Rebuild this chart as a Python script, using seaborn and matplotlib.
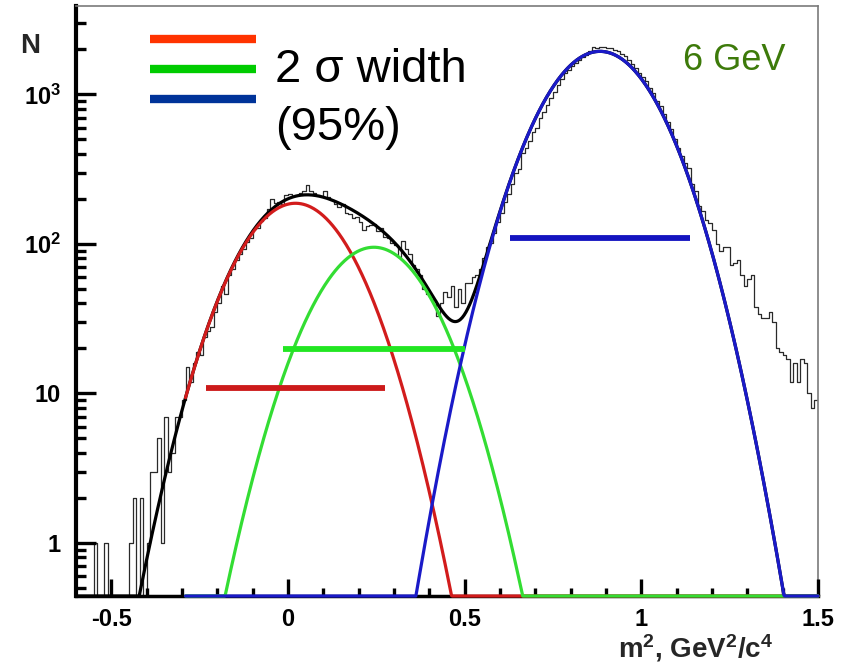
import numpy as np
import pandas as pd
import matplotlib
matplotlib.use("Agg")
import matplotlib.pyplot as plt
import seaborn as sns
from matplotlib.ticker import NullLocator, NullFormatter

# ---------------- data ----------------
bin_start = -0.60
bin_width = 0.01
hist_counts = [
    0, 0, 0, 0, 0, 1, 0, 0, 1, 0,
    0, 0, 0, 0, 0, 1, 2, 0, 2, 0,
    1, 3, 3, 5, 1, 7, 3, 4, 7, 7,
    9,
    15, 12, 16, 19, 18, 24, 26, 28, 35, 40,
    52, 46, 62, 68, 78, 86, 92, 103, 110, 125,
    128, 143, 150, 170, 200, 188, 192, 186, 212, 215,
    208, 212, 218, 225, 248, 226, 218, 212, 208,
    225, 205, 198, 185, 176, 185, 162, 158, 150, 152,
    140, 124, 132, 134, 136, 122, 128, 112, 110, 102,
    98, 82, 104, 92, 86, 72, 68, 62, 50, 46,
    44, 42, 33, 40, 48, 44, 52, 38, 50, 40,
    55, 55, 60, 62, 68, 80, 95, 102, 118, 140,
    160, 190, 215, 250, 300, 315, 405, 440, 490, 560,
    600, 690, 760, 850, 950, 1030, 1150, 1260, 1380, 1450,
    1540, 1620, 1700, 1790, 1820, 1960, 2060, 2040, 2080, 2070,
    2050, 2030, 1990, 1940, 1850, 1800, 1700, 1600, 1500, 1400,
    1300, 1220, 1100, 1020, 910, 830, 740, 650, 590, 500,
    440, 390, 345, 320, 250, 225, 180, 165, 145, 138,
    124, 100, 89, 96, 96, 72, 75, 78, 62, 52,
    58, 62, 38, 34, 32, 32, 35, 30, 20, 19,
    18, 17, 12, 16, 12, 17, 16, 10, 8, 9,
]

# Gaussian fit components (pion, kaon, proton)
fit_labels = ["pi", "K", "p"]
fit_amplitude = [187.0, 95.0, 1940.0]
fit_mean = [0.021, 0.243, 0.883]
fit_sigma = [0.1271, 0.1285, 0.1272]
fit_start = [-0.29, -0.29, -0.29]
total_start = -0.60
fit_end = 1.50

# N level at which each 2-sigma bar is drawn
band_level = [10.9, 19.9, 110.0]

x_ticks = [-0.5, 0, 0.5, 1, 1.5]
x_tick_labels = ["-0.5", "0", "0.5", "1", "1.5"]
y_ticks = [1, 10, 100, 1000]
y_tick_labels = ["1", "10", r"$10^{2}$", r"$10^{3}$"]

# ---------------- styling ----------------
sns.set_theme(style="ticks")
plt.rcParams["font.family"] = ["Liberation Sans", "DejaVu Sans"]
plt.rcParams["mathtext.fontset"] = "custom"
plt.rcParams["mathtext.rm"] = "Liberation Sans"
plt.rcParams["mathtext.bf"] = "Liberation Sans:bold"
plt.rcParams["mathtext.default"] = "bf"
plt.rcParams["axes.axisbelow"] = False

curve_colors = ["#d21c1c", "#33dd33", "#1a1ac8"]
bar_colors = ["#cc1a1a", "#22e622", "#1414c0"]
legend_colors = ["#ff3300", "#00cc00", "#003399"]

XMIN, XMAX = -0.60, 1.50
YMIN, YMAX = 0.442, 3900.0

fig = plt.figure(figsize=(8.5, 6.66), dpi=100)
ax = fig.add_axes([76 / 850, 1 - 596 / 666, (818 - 76) / 850, (596 - 6) / 666])

# histogram
counts = np.array(hist_counts, dtype=float)
edges = bin_start + bin_width * np.arange(len(counts) + 1)
centers = edges[:-1] + bin_width / 2
hist_df = pd.DataFrame({"m2": centers, "N": counts})
sns.histplot(data=hist_df, x="m2", weights="N", bins=list(edges), element="step",
             fill=False, color="#2a2a2a", linewidth=0.9, ax=ax, zorder=2)
ax.set_yscale("log")


def gauss(x, a, m, s):
    return a * np.exp(-0.5 * ((x - m) / s) ** 2)


# total fit
xt = np.linspace(total_start, fit_end, 800)
yt = sum(gauss(xt, a, m, s) for a, m, s in zip(fit_amplitude, fit_mean, fit_sigma))
sns.lineplot(x=xt, y=np.clip(yt, YMIN, None), color="black", linewidth=2.3,
             ax=ax, zorder=3, clip_on=False, sort=False)

# components
for i, (a, m, s) in enumerate(zip(fit_amplitude, fit_mean, fit_sigma)):
    xg = np.linspace(fit_start[i], fit_end, 800)
    yg = np.clip(gauss(xg, a, m, s), YMIN, None)
    sns.lineplot(x=xg, y=yg, color=curve_colors[i], linewidth=2.3, ax=ax,
                 zorder=3.1 + 0.1 * i, clip_on=False, sort=False)

# 2-sigma bars
for i, (m, s) in enumerate(zip(fit_mean, fit_sigma)):
    ax.hlines(band_level[i], m - 2 * s, m + 2 * s, colors=bar_colors[i],
              linewidth=4.2, zorder=3.6)

ax.set_xlim(XMIN, XMAX)
ax.set_ylim(YMIN, YMAX)
ax.set_xlabel("")
ax.set_ylabel("")

# tick labels (native marks hidden; marks drawn as line segments below)
ax.set_xticks(x_ticks, x_tick_labels, fontsize=17, fontweight="bold")
ax.set_yticks(y_ticks, y_tick_labels, fontsize=17, fontweight="bold")
ax.xaxis.set_minor_locator(NullLocator())
ax.yaxis.set_minor_locator(NullLocator())
ax.yaxis.set_minor_formatter(NullFormatter())
ax.tick_params(axis="x", which="major", length=0, pad=9, labelcolor="black")
ax.tick_params(axis="y", which="major", length=0, pad=11, labelcolor="black")

# inward tick marks as plain line segments in data space
x_minor = [v for v in np.round(np.arange(-0.5, 1.5001, 0.1), 2)
           if not np.any(np.isclose(v, x_ticks))]
y_minor = [m * 10.0 ** e for e in range(-1, 4) for m in range(2, 10)
           if YMIN < m * 10.0 ** e < YMAX]
x_per_px = (XMAX - XMIN) / 742.0
dec_per_px = np.log10(YMAX / YMIN) / 590.0


def seg_xy(pairs):
    xs, ys = [], []
    for (x0, y0), (x1, y1) in pairs:
        xs += [x0, x1, np.nan]
        ys += [y0, y1, np.nan]
    return xs, ys


tick_pairs = []
for v in x_ticks:
    tick_pairs.append(((v, YMIN), (v, YMIN * 10 ** (17 * dec_per_px))))
for v in x_minor:
    tick_pairs.append(((v, YMIN), (v, YMIN * 10 ** (8 * dec_per_px))))
for v in y_ticks:
    tick_pairs.append(((XMIN, v), (XMIN + 20 * x_per_px, v)))
for v in y_minor:
    tick_pairs.append(((XMIN, v), (XMIN + 10 * x_per_px, v)))
tx, ty = seg_xy(tick_pairs)
ax.plot(tx, ty, color="black", linewidth=2.4, solid_capstyle="butt",
        zorder=3.05, clip_on=False)

for side in ["left", "bottom"]:
    ax.spines[side].set_color("black")
for side, w in [("left", 3.0), ("bottom", 2.5)]:
    ax.spines[side].set_linewidth(w)
for side in ["top", "right"]:
    ax.spines[side].set_visible(True)
    ax.spines[side].set_color("#7a7a7a")
    ax.spines[side].set_linewidth(1.2)

# legend-like key
key_y = [0.9446, 0.8932, 0.8424]
for c, yy in zip(legend_colors, key_y):
    ax.plot([0.0997, 0.2426], [yy, yy], transform=ax.transAxes, color=c,
            linewidth=6, solid_capstyle="butt", clip_on=False, zorder=5)

fig.text(275 / 850, 1 - 82 / 666, "2 σ width", fontsize=34, color="black",
         ha="left", va="baseline")
fig.text(275 / 850, 1 - 140 / 666, "(95%)", fontsize=34, color="black",
         ha="left", va="baseline")
fig.text(683 / 850, 1 - 70 / 666, "6 GeV", fontsize=26, color="#3d7a0a",
         ha="left", va="baseline")
fig.text(20 / 850, 1 - 53 / 666, "N", fontsize=20, fontweight="bold",
         ha="left", va="baseline")
fig.text(773 / 850, 1 - 657 / 666, r"m$^{2}$, GeV$^{2}$/c$^{4}$", fontsize=20,
         fontweight="bold", ha="right", va="baseline")

fig.savefig("out.png", dpi=100)
